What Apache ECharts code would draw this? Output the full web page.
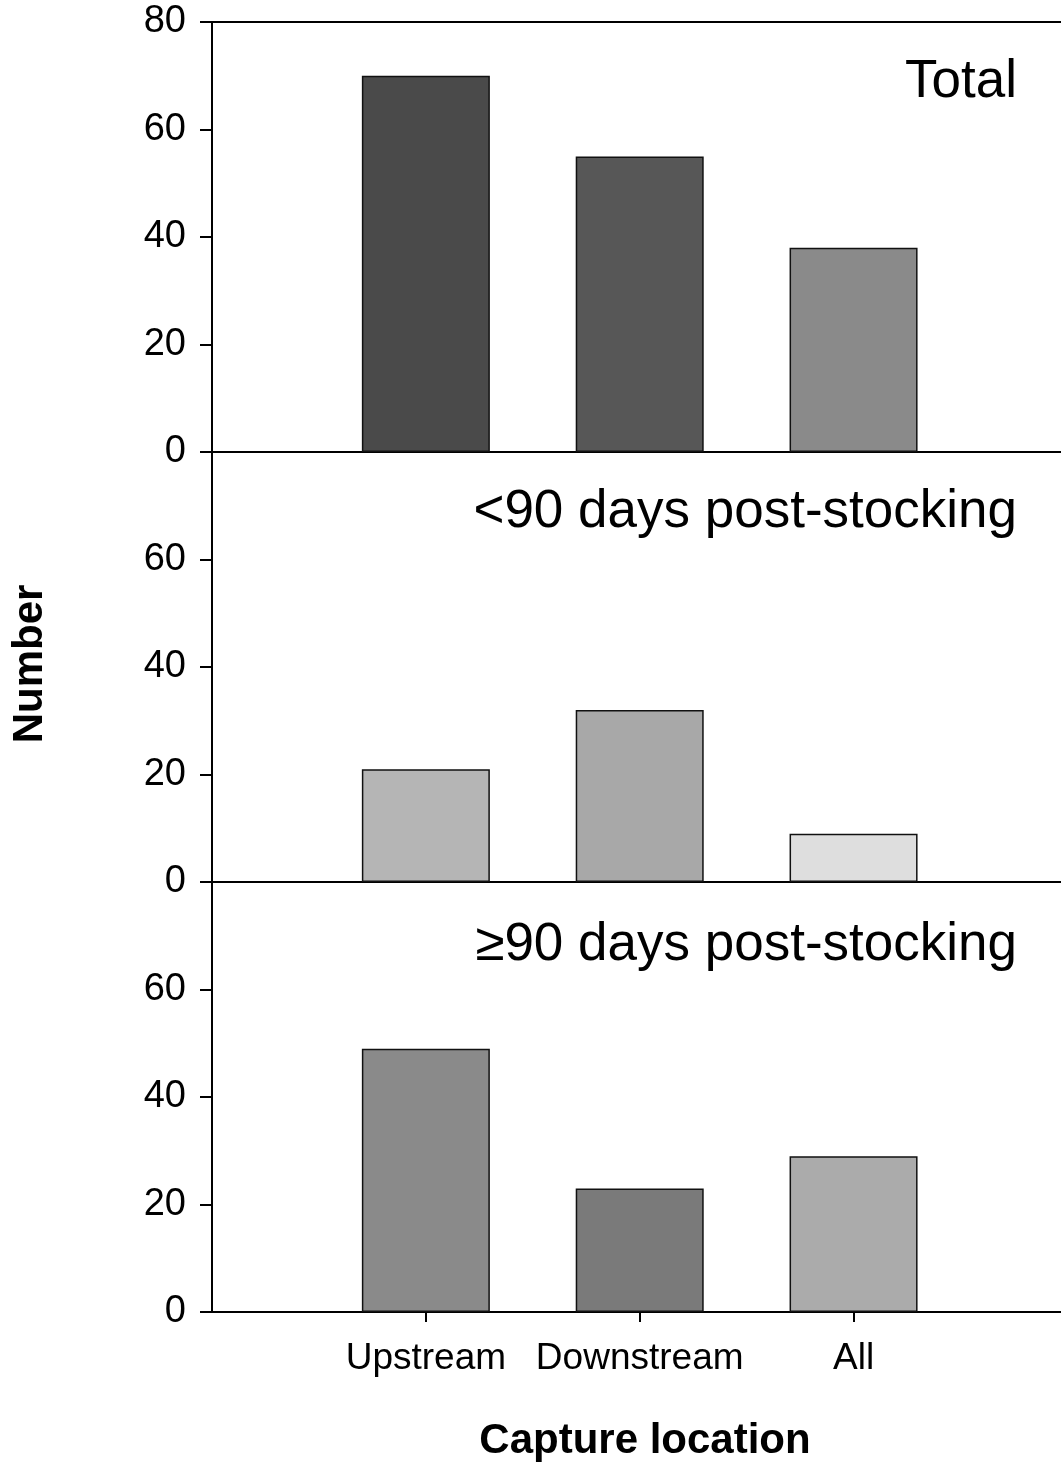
<!DOCTYPE html>
<html>
<head>
<meta charset="utf-8">
<script src="https://cdn.jsdelivr.net/npm/echarts@6/dist/echarts.min.js"></script>
<style>
html,body{margin:0;padding:0;background:#fff;}
#chart{width:1061px;height:1465px;}
</style>
</head>
<body>
<div id="chart"></div>
<script>
// ---- data ----
const categories = ['Upstream', 'Downstream', 'All'];
const panelTitles = ['Total', '<90 days post-stocking', '\u226590 days post-stocking'];
const totalValues = [70, 55, 38];
const earlyValues = [21, 32, 9];
const lateValues = [49, 23, 29];
const yTickLabels = [0, 20, 40, 60, 80];
const yAxisTitle = 'Number';
const xAxisTitle = 'Capture location';

// ---- styles (not data) ----
const panelValues = [totalValues, earlyValues, lateValues];
const barColors = [
  ['#4a4a4a', '#575757', '#8a8a8a'],
  ['#b5b5b5', '#a8a8a8', '#dedede'],
  ['#8a8a8a', '#7a7a7a', '#ababab']
];
const FONT = '"Liberation Sans", Arial, sans-serif';
const gridTops = [22, 452, 882];
const titleY = [80, 510, 943];
const X_MAX = 3.97;

const chart = echarts.init(document.getElementById('chart'), null, {renderer: 'canvas'});

const grids = [], xAxes = [], yAxes = [], series = [], graphics = [];
const tickPositions = categories.map((c, i) => i + 1);

panelValues.forEach((vals, p) => {
  grids.push({left: 212, top: gridTops[p], right: 0, height: 430, containLabel: false});
  const isBottom = p === 2;
  xAxes.push({
    type: 'value', gridIndex: p, min: 0, max: X_MAX, interval: 1,
    axisLine: {show: true, onZero: false, lineStyle: {color: '#000', width: 2}},
    axisTick: {show: isBottom, customValues: tickPositions, length: 10, lineStyle: {color: '#000', width: 2}},
    axisLabel: {show: isBottom, customValues: tickPositions, margin: 28,
      formatter: v => categories[Math.round(v) - 1] || '',
      fontSize: 37, fontFamily: FONT, color: '#000'},
    splitLine: {show: false}
  });
  yAxes.push({
    type: 'value', gridIndex: p, min: 0, max: 80, interval: 20,
    axisLine: {show: true, lineStyle: {color: '#000', width: 2}},
    axisTick: {show: true, length: 12, lineStyle: {color: '#000', width: 2}},
    axisLabel: {margin: 26, fontSize: 38, fontFamily: FONT, color: '#000',
      formatter: v => (p > 0 && v === yTickLabels[yTickLabels.length - 1]) ? '' : String(v)},
    splitLine: {show: false}
  });
  series.push({
    type: 'bar', xAxisIndex: p, yAxisIndex: p, barWidth: 128,
    data: categories.map((c, i) => ({
      value: [i + 1, vals[i]],
      itemStyle: {color: barColors[p][i], borderColor: '#111', borderWidth: 1.5}
    })),
    silent: true
  });
  graphics.push({
    type: 'text', right: 44, top: titleY[p] - 24,
    style: {text: panelTitles[p], font: '53px ' + FONT, fill: '#000'}
  });
});

// top frame line of first panel
xAxes.push({
  type: 'value', gridIndex: 0, position: 'top', min: 0, max: X_MAX,
  axisLine: {show: true, onZero: false, lineStyle: {color: '#000', width: 2}},
  axisTick: {show: false}, axisLabel: {show: false}, splitLine: {show: false}
});

graphics.push({
  type: 'text', x: 30, y: 664, rotation: Math.PI / 2,
  style: {text: yAxisTitle, font: 'bold 42px ' + FONT, fill: '#000', align: 'center', verticalAlign: 'middle'}
});
graphics.push({
  type: 'text', x: 645, y: 1441,
  style: {text: xAxisTitle, font: 'bold 42px ' + FONT, fill: '#000', align: 'center', verticalAlign: 'middle'}
});

chart.setOption({
  backgroundColor: '#fff',
  animation: false,
  grid: grids,
  xAxis: xAxes,
  yAxis: yAxes,
  series: series,
  graphic: graphics
});
</script>
</body>
</html>
